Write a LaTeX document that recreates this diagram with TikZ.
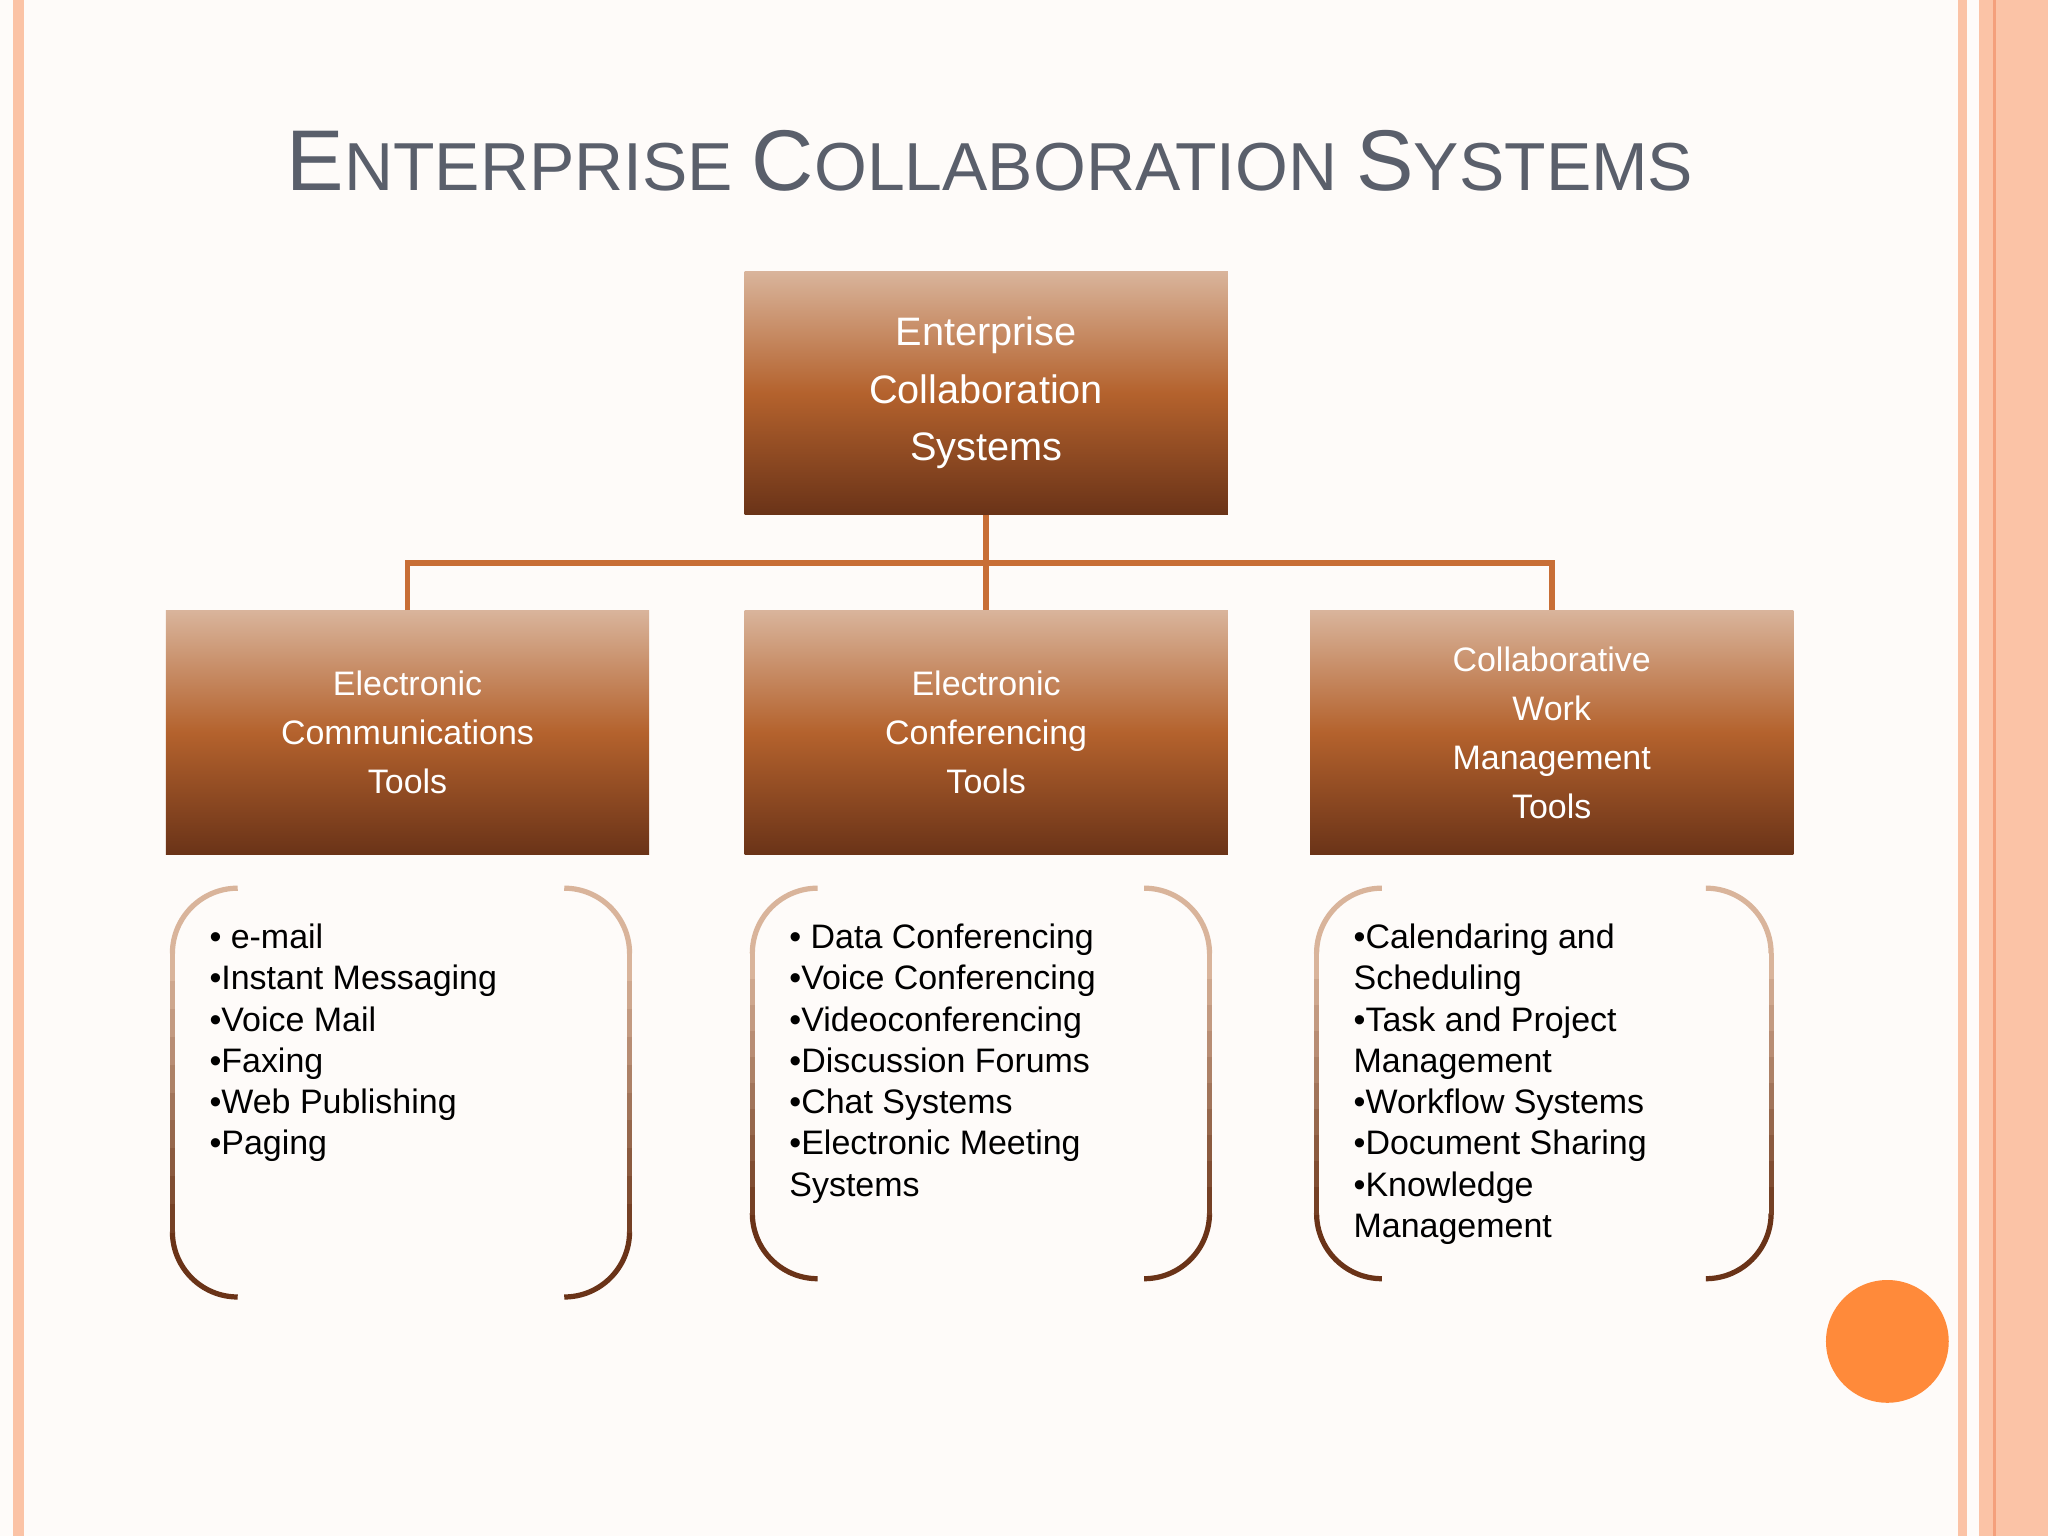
\documentclass[tikz,border=0pt]{standalone}
\usepackage{fontspec}
\setmainfont{Liberation Sans}
\usetikzlibrary{calc}
\definecolor{bg}{HTML}{FEFBF9}
\definecolor{btop}{HTML}{D9B49B}
\definecolor{bmid}{HTML}{B4622D}
\definecolor{bbot}{HTML}{6A3318}
\definecolor{conn}{HTML}{C86E36}
\definecolor{ttl}{HTML}{5A5F6B}
\definecolor{salmon}{HTML}{FBC3A6}
\definecolor{salmond}{HTML}{F4A07C}
\definecolor{orng}{HTML}{FF8A3A}
\tikzset{
 box/.style={draw=none,top color=btop,bottom color=bbot,middle color=bmid,shading angle=0,text=white,align=center,inner sep=0pt},
 conn/.style={draw=conn,line width=2.2pt},
 lst/.style={anchor=north west,align=left,inner sep=0pt,font=\fontsize{13}{15.8}\selectfont,text=black}
}
\newcommand{\brk}[4]{% x1 x2 y1 y2
 \draw[btop,line width=2pt] (#1+52,#3) arc[start angle=270,end angle=180,radius=50];
 \draw[btop,line width=2pt] (#2-52,#3) arc[start angle=270,end angle=360,radius=50];
 \draw[bbot,line width=2pt] (#1+52,#4) arc[start angle=90,end angle=180,radius=50];
 \draw[bbot,line width=2pt] (#2-52,#4) arc[start angle=90,end angle=0,radius=50];
 \foreach \i in {0,...,9}{
  \pgfmathsetmacro\p{100-\i*10}
  \pgfmathsetmacro\ya{#3+50+\i*(#4-#3-100)/10}
  \pgfmathsetmacro\yb{#3+50+(\i+1)*(#4-#3-100)/10+1}
  \draw[btop!\p!bbot,line width=2pt] (#1+2,\ya) -- (#1+2,\yb);
  \draw[btop!\p!bbot,line width=2pt] (#2-2,\ya) -- (#2-2,\yb);
 }}
\begin{document}
\begin{tikzpicture}[x=0.5pt,y=-0.5pt]
\useasboundingbox (0,0) rectangle (1568,1176);
\fill[bg] (0,0) rectangle (1568,1176);
\fill[salmon] (10,0) rectangle (18,1176);
\fill[salmon] (1499,0) rectangle (1506,1176);
\fill[salmon] (1515,0) rectangle (1568,1176);
\draw[salmond,line width=1.5pt] (1527,0) -- (1527,1176);
\node[text=ttl,anchor=base] (title) at (758,146) {\fontsize{33}{35}\selectfont E\fontsize{26}{28}\selectfont NTERPRISE \fontsize{33}{35}\selectfont C\fontsize{26}{28}\selectfont OLLABORATION \fontsize{33}{35}\selectfont S\fontsize{26}{28}\selectfont YSTEMS};
\node[box,minimum width=185pt,minimum height=93pt,font=\fontsize{15.2}{22}\selectfont] (top) at (755,301) {Enterprise\\Collaboration\\Systems};
\node[box,minimum width=185pt,minimum height=93.5pt,font=\fontsize{13}{18.8}\selectfont] (c1) at (312,561) {Electronic\\Communications\\Tools};
\node[box,minimum width=185pt,minimum height=93.5pt,font=\fontsize{13}{18.8}\selectfont] (c2) at (755,561) {Electronic\\Conferencing\\Tools};
\node[box,minimum width=185pt,minimum height=93.5pt,font=\fontsize{13}{18.8}\selectfont] (c3) at (1188,561) {Collaborative\\Work\\Management\\Tools};
\coordinate (j) at (755,431);
\draw[conn] (top.south) -- (j);
\draw[conn] (c1.north) |- (j) -| (c3.north);
\draw[conn] (j) -- (c2.north);
\brk{130}{484}{680}{993}
\brk{574}{928}{680}{979}
\brk{1006}{1358}{680}{979}
\node[lst] (l1) at (160,707) {• e-mail\\•Instant Messaging\\•Voice Mail\\•Faxing\\•Web Publishing\\•Paging};
\node[lst] (l2) at (604,707) {• Data Conferencing\\•Voice Conferencing\\•Videoconferencing\\•Discussion Forums\\•Chat Systems\\•Electronic Meeting\\Systems};
\node[lst] (l3) at (1036,707) {•Calendaring and\\Scheduling\\•Task and Project\\Management\\•Workflow Systems\\•Document Sharing\\•Knowledge\\Management};
\fill[orng] (1445,1027) circle[radius=47];
\end{tikzpicture}
\end{document}
